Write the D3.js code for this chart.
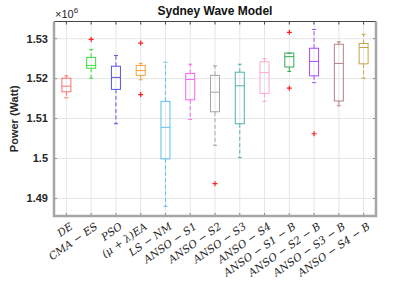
<!DOCTYPE html>
<html>
<head>
<meta charset="utf-8">
<script src="https://cdn.jsdelivr.net/npm/d3@7"></script>
<style>
  html, body { margin: 0; padding: 0; background: #fff; }
  svg { display: block; }
</style>
</head>
<body>
<svg id="chart" width="415" height="285"></svg>
<script>
// categories (x labels), rendered as math-style text
const methods = [
  'DE', 'CMA − ES', 'PSO', '(μ + λ)EA', 'LS − NM',
  'ANSO − S1', 'ANSO − S2', 'ANSO − S3', 'ANSO − S4',
  'ANSO − S1 − B', 'ANSO − S2 − B', 'ANSO − S3 − B', 'ANSO − S4 − B'
];

// box statistics, in units of 1e6 Watt
const whiskerLow = [1.5152, 1.5201, 1.5087, 1.5197, 1.4880, 1.5098, 1.5033, 1.5002, 1.5143, 1.5218, 1.5190, 1.5132, 1.5201];
const q1 =         [1.5167, 1.5226, 1.5173, 1.5208, 1.4999, 1.5147, 1.5117, 1.5087, 1.5163, 1.5229, 1.5207, 1.5144, 1.5237];
const medians =    [1.5181, 1.5233, 1.5203, 1.5220, 1.5078, 1.5198, 1.5166, 1.5182, 1.5215, 1.5255, 1.5243, 1.5238, 1.5278];
const q3 =         [1.5201, 1.5253, 1.5231, 1.5233, 1.5143, 1.5213, 1.5208, 1.5216, 1.5242, 1.5264, 1.5276, 1.5286, 1.5288];
const whiskerHigh = [1.5207, 1.5273, 1.5258, 1.5238, 1.5241, 1.5236, 1.5232, 1.5236, 1.5250, 1.5264, 1.5323, 1.5292, 1.5311];
const outliers = [
  [], [1.5298], [], [1.5289, 1.5160], [], [], [1.4937], [], [],
  [1.5316, 1.5176], [1.5062], [], []
];

const colors = [
  '#ff6f6f', '#3fdc3f', '#5656e6', '#f2a03c', '#5ec0ee', '#f266f2', '#a6a6a6',
  '#4fb2b2', '#ffa6cc', '#33ac55', '#a64dff', '#b58282', '#c4a346'
];

const yTicks = [1.49, 1.5, 1.51, 1.52, 1.53];

const margin = { top: 21.5, right: 39, bottom: 69, left: 54 };
const width = 415;
const height = 285;

const svg = d3.select('#chart');

const x = d3.scaleLinear()
  .domain([0.5, methods.length + 0.5])
  .range([margin.left, width - margin.right]);

const y = d3.scaleLinear()
  .domain([1.4856, 1.5343])
  .range([height - margin.bottom, margin.top]);

const boxW = 9;
const capW = 4;

// grid
const grid = svg.append('g').attr('class', 'grid');
grid.selectAll('line.gx')
  .data(methods)
  .enter()
  .append('line')
  .attr('x1', (d, i) => x(i + 1))
  .attr('x2', (d, i) => x(i + 1))
  .attr('y1', margin.top)
  .attr('y2', height - margin.bottom)
  .style('stroke', '#e6e6e6')
  .style('stroke-width', 1);
grid.selectAll('line.gy')
  .data(yTicks)
  .enter()
  .append('line')
  .attr('x1', margin.left)
  .attr('x2', width - margin.right)
  .attr('y1', d => y(d))
  .attr('y2', d => y(d))
  .style('stroke', '#e6e6e6')
  .style('stroke-width', 1);

// boxes
const stats = methods.map((m, i) => ({
  i: i + 1,
  lo: whiskerLow[i],
  q1: q1[i],
  med: medians[i],
  q3: q3[i],
  hi: whiskerHigh[i],
  out: outliers[i],
  color: colors[i]
}));

const boxes = svg.append('g')
  .attr('class', 'boxes')
  .selectAll('g')
  .data(stats)
  .enter()
  .append('g');

// whiskers (dashed)
boxes.append('line')
  .attr('x1', d => x(d.i)).attr('x2', d => x(d.i))
  .attr('y1', d => y(d.q3)).attr('y2', d => y(d.hi))
  .style('stroke', d => d.color)
  .style('stroke-dasharray', '4,2.5');
boxes.append('line')
  .attr('x1', d => x(d.i)).attr('x2', d => x(d.i))
  .attr('y1', d => y(d.q1)).attr('y2', d => y(d.lo))
  .style('stroke', d => d.color)
  .style('stroke-dasharray', '4,2.5');

// caps
['hi', 'lo'].forEach(k => {
  boxes.append('line')
    .attr('x1', d => x(d.i) - capW / 2).attr('x2', d => x(d.i) + capW / 2)
    .attr('y1', d => y(d[k])).attr('y2', d => y(d[k]))
    .style('stroke', d => d.color);
});

boxes.append('rect')
  .attr('x', d => x(d.i) - boxW / 2)
  .attr('width', boxW)
  .attr('y', d => y(d.q3))
  .attr('height', d => y(d.q1) - y(d.q3))
  .style('fill', 'none')
  .style('stroke', d => d.color);

boxes.append('line')
  .attr('x1', d => x(d.i) - boxW / 2).attr('x2', d => x(d.i) + boxW / 2)
  .attr('y1', d => y(d.med)).attr('y2', d => y(d.med))
  .style('stroke', d => d.color);

// outliers as red pluses
boxes.selectAll('path.out')
  .data(d => d.out.map(v => ({ i: d.i, v })))
  .enter()
  .append('path')
  .attr('d', d => {
    const cx = x(d.i);
    const cy = y(d.v);
    return `M${cx - 2.5},${cy}H${cx + 2.5}M${cx},${cy - 2.5}V${cy + 2.5}`;
  })
  .style('stroke', '#ff2020')
  .style('stroke-width', 1.2);

// frame: top dark thin, others thick gray
const x0 = margin.left;
const x1 = width - margin.right;
const y0 = margin.top;
const y1 = height - margin.bottom;

svg.append('line')
  .attr('x1', x0).attr('x2', x1).attr('y1', y0).attr('y2', y0)
  .style('stroke', '#444').style('stroke-width', 1);

// top ticks
svg.append('g')
  .selectAll('line')
  .data(methods)
  .enter()
  .append('line')
  .attr('x1', (d, i) => x(i + 1)).attr('x2', (d, i) => x(i + 1))
  .attr('y1', y0).attr('y2', y0 + 3)
  .style('stroke', '#444');

// bottom ticks
svg.append('g')
  .selectAll('line')
  .data(methods)
  .enter()
  .append('line')
  .attr('x1', (d, i) => x(i + 1)).attr('x2', (d, i) => x(i + 1))
  .attr('y1', y1).attr('y2', y1 - 3)
  .style('stroke', '#888');

// right ticks
svg.append('g')
  .selectAll('line')
  .data(yTicks)
  .enter()
  .append('line')
  .attr('x1', x1).attr('x2', x1 - 3)
  .attr('y1', d => y(d)).attr('y2', d => y(d))
  .style('stroke', '#888');

// left ticks
svg.append('g')
  .selectAll('line')
  .data(yTicks)
  .enter()
  .append('line')
  .attr('x1', x0).attr('x2', x0 + 3)
  .attr('y1', d => y(d)).attr('y2', d => y(d))
  .style('stroke', '#888');

svg.append('path')
  .attr('d', `M${x0},${y0}V${y1}H${x1}V${y0}`)
  .style('fill', 'none')
  .style('stroke', '#a6a6a6')
  .style('stroke-width', 2.5);

// y tick labels
svg.append('g')
  .selectAll('text')
  .data(yTicks)
  .enter()
  .append('text')
  .attr('x', x0 - 6)
  .attr('y', d => y(d))
  .attr('dy', '0.35em')
  .attr('text-anchor', 'end')
  .style('font-family', 'Liberation Sans, Arial, sans-serif')
  .style('font-weight', 'bold')
  .style('font-size', '11px')
  .style('fill', '#262626')
  .text(d => d3.format('~g')(d));

// x tick labels, rotated
svg.append('g')
  .selectAll('text')
  .data(methods)
  .enter()
  .append('text')
  .attr('transform', (d, i) => `translate(${x(i + 1) + 3},${y1 + 6}) rotate(-35)`)
  .attr('text-anchor', 'end')
  .attr('dy', '0.7em')
  .style('font-family', 'DejaVu Serif, serif')
  .style('font-style', 'italic')
  .style('font-size', '10.5px')
  .style('fill', '#262626')
  .text(d => d);

// exponent label
const expo = svg.append('text')
  .attr('x', x0 + 1)
  .attr('y', y0 - 4)
  .style('font-family', 'Liberation Sans, Arial, sans-serif')
  .style('font-size', '11px')
  .style('fill', '#262626');
expo.append('tspan').text('×10');
expo.append('tspan')
  .attr('dy', '-5')
  .style('font-size', '8px')
  .text('6');

// title
svg.append('text')
  .attr('x', (x0 + x1) / 2)
  .attr('y', 15)
  .attr('text-anchor', 'middle')
  .style('font-family', 'Liberation Sans, Arial, sans-serif')
  .style('font-weight', 'bold')
  .style('font-size', '12px')
  .style('fill', '#111')
  .text('Sydney Wave Model');

// y axis title
svg.append('text')
  .attr('transform', `translate(18,${(y0 + y1) / 2}) rotate(-90)`)
  .attr('text-anchor', 'middle')
  .style('font-family', 'Liberation Sans, Arial, sans-serif')
  .style('font-weight', 'bold')
  .style('font-size', '11px')
  .style('fill', '#262626')
  .text('Power (Watt)');
</script>
</body>
</html>
